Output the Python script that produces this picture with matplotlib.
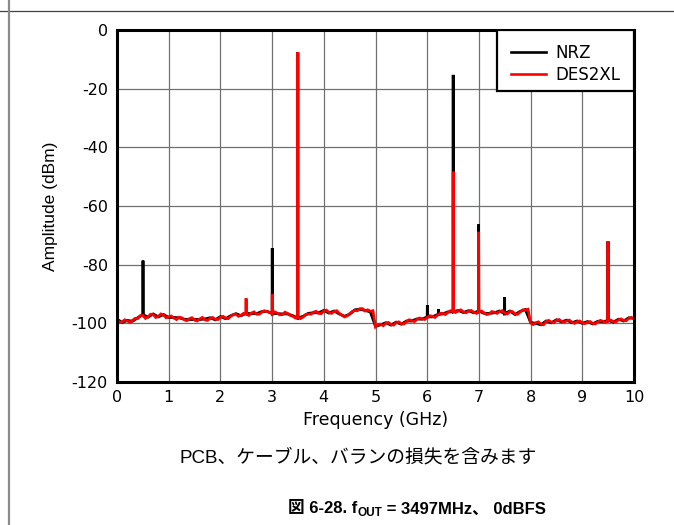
import numpy as np
import matplotlib
matplotlib.use("Agg")
import matplotlib.pyplot as plt
from matplotlib.lines import Line2D
from matplotlib.patches import Rectangle

plt.rcParams["font.family"] = ["Liberation Sans", "Noto Sans CJK JP", "DejaVu Sans"]
plt.rcParams["axes.unicode_minus"] = False

# ------------------------
# Data
# ------------------------
freq_fine = np.round(np.arange(0, 10.001, 0.05), 2)   # GHz, DES2XL trace
freq_coarse = np.round(np.arange(0, 10.01, 0.1), 2)   # GHz, NRZ trace

des2xl_floor = [
    -98.9, -99.6, -99.5, -98.8, -99.2, -99.7, -99.0, -98.3, -98.4, -97.4,
    -97.3, -98.3, -97.8, -96.9, -97.0, -98.0, -97.6, -96.8, -97.2, -98.1,
    -97.8, -97.5, -98.2, -98.7, -97.9, -98.1, -98.8, -99.1, -98.4, -98.1,
    -98.9, -99.2, -98.5, -98.0, -98.8, -99.0, -98.3, -98.0, -98.6, -98.7,
    -97.9, -97.6, -98.2, -98.4, -97.6, -97.0, -96.9, -97.6, -97.2, -96.6,
    -96.8, -97.3, -96.5, -96.1, -96.9, -96.9, -96.2, -95.7, -96.0, -96.3,
    -96.8, -96.1, -96.5, -97.1, -97.0, -96.2, -96.6, -97.3, -97.6, -98.2,
    -98.0, -98.4, -97.8, -97.0, -96.8, -96.9, -96.2, -95.9, -96.6, -96.7,
    -95.8, -95.5, -96.3, -96.6, -96.0, -95.7, -96.6, -97.2, -97.8, -97.5,
    -96.7, -96.0, -95.6, -95.7, -95.0, -95.0, -95.8, -95.4, -95.9, -95.7,
    -101.2, -100.4, -100.3, -100.8, -100.0, -99.7, -100.4, -100.6, -99.8, -99.5,
    -100.1, -100.2, -99.4, -98.8, -99.0, -99.4, -98.7, -98.2, -98.4, -98.7,
    -98.0, -97.4, -97.6, -98.0, -97.2, -96.6, -96.6, -97.0, -96.3, -95.7,
    -95.9, -96.3, -95.8, -95.4, -96.1, -96.4, -95.9, -95.6, -96.2, -96.6,
    -96.0, -95.8, -96.4, -97.0, -96.8, -96.0, -96.2, -96.6, -96.0, -95.7,
    -96.5, -96.8, -96.0, -96.0, -96.8, -96.9, -96.1, -95.4, -95.5, -95.2,
    -99.9, -100.4, -99.8, -99.5, -100.3, -100.5, -99.4, -99.0, -99.6, -99.8,
    -99.0, -98.7, -99.3, -99.6, -99.1, -98.9, -99.6, -100.0, -99.4, -99.2,
    -99.8, -100.1, -99.6, -99.4, -100.0, -100.2, -99.5, -99.0, -99.3, -99.7,
    -99.2, -98.9, -99.4, -99.5, -98.8, -98.5, -99.0, -99.1, -98.3, -98.0,
    -98.5,
]

nrz_floor = [
    -98.6, -99.7, -99.0, -99.3, -98.1, -97.0, -97.9, -96.8, -97.8, -97.0,
    -98.0, -98.0, -98.1, -98.6, -98.7, -98.7, -98.7, -98.5, -98.1, -98.8,
    -97.7, -98.4, -97.4, -96.7, -97.4, -96.6, -96.7, -96.7, -96.0, -95.9,
    -96.6, -96.7, -96.8, -96.8, -97.4, -98.2, -97.6, -96.6, -96.4, -96.4,
    -95.6, -96.5, -95.8, -96.8, -97.6, -96.9, -95.4, -95.2, -95.6, -96.1,
    -101.0, -100.5, -99.8, -100.6, -99.6, -100.3, -99.2, -99.2, -98.5, -98.6,
    -97.8, -97.8, -97.0, -96.8, -96.1, -96.1, -95.6, -96.3, -95.7, -96.4,
    -95.8, -96.6, -96.6, -96.4, -95.8, -96.7, -95.8, -97.0, -95.9, -95.3,
    -99.7, -100.0, -100.5, -99.2, -99.8, -98.8, -99.5, -98.9, -99.8, -99.2,
    -100.0, -99.4, -100.2, -99.3, -99.5, -99.0, -99.6, -98.6, -99.2, -98.1,
    -98.3,
]

nrz_spur_freq = [0.503, 3.003, 3.497, 6.003, 6.22, 6.503, 6.994, 7.497, 9.497]
nrz_spur_level = [-78.6, -74.4, -7.6, -93.8, -95.2, -15.3, -66.3, -91.1, -72.0]

des2xl_spur_freq = [2.497, 3.003, 3.497, 6.503, 6.994, 9.497]
des2xl_spur_level = [-91.5, -90.0, -7.6, -48.3, -68.8, -72.0]

x_ticks = list(range(0, 11))
y_ticks = [0, -20, -40, -60, -80, -100, -120]

# the chart image in the source is stretched sideways, a wider face copies that
wide_font = ["DejaVu Sans"]


def with_spurs(grid, floor, spur_freq, spur_level, half_width=0.004):
    # put each spur on the trace as a narrow spike rising from the noise floor
    f = list(grid)
    a = list(floor)
    for sf, sl in zip(spur_freq, spur_level):
        for df in (-half_width, half_width):
            f.append(sf + df)
            a.append(float(np.interp(sf + df, grid, floor)))
        f.append(sf)
        a.append(sl)
    order = np.argsort(f, kind="stable")
    return np.array(f)[order], np.array(a)[order]


# ------------------------
# Figure
# ------------------------
fig = plt.figure(figsize=(6.74, 5.25), dpi=100)
ax = fig.add_axes([117 / 674, 1 - 382 / 525, 517 / 674, 352 / 525])

f_nrz, a_nrz = with_spurs(freq_coarse, nrz_floor, nrz_spur_freq, nrz_spur_level)
f_des, a_des = with_spurs(freq_fine, des2xl_floor, des2xl_spur_freq, des2xl_spur_level)

ax.plot(f_nrz, a_nrz, color="black", lw=2.0, solid_joinstyle="miter", zorder=3)
ax.plot(f_des, a_des, color="#ff0000", lw=2.0, solid_joinstyle="miter", zorder=4)

ax.set_xlim(0, 10)
ax.set_ylim(-120, 0)
ax.set_xticks(x_ticks)
ax.set_yticks(y_ticks)
ax.grid(True, color="#707070", lw=0.9)
ax.set_axisbelow(True)
ax.tick_params(length=0, labelsize=11.5)
ax.tick_params(axis="x", pad=6)
ax.tick_params(axis="y", pad=6.5)
for lab in ax.get_xticklabels() + ax.get_yticklabels():
    lab.set_family(wide_font)
for sp in ax.spines.values():
    sp.set_linewidth(2.2)
    sp.set_color("black")
    sp.set_zorder(6)

ax.set_xlabel("Frequency (GHz)", fontsize=12.5, family=wide_font)
ax.xaxis.set_label_coords(0.5, -0.083)
ax.set_ylabel("Amplitude (dBm)", fontsize=12.5)
ax.yaxis.set_label_coords(-0.115, 0.5)

# legend in a plain black box flush with the top-right corner
box = Rectangle((380 / 517, 1 - 61 / 352), 137 / 517, 61 / 352,
                transform=ax.transAxes, facecolor="white", edgecolor="black",
                lw=1.6, zorder=7)
ax.add_patch(box)
handles = [Line2D([], [], color="black", lw=1.9),
           Line2D([], [], color="#ff0000", lw=1.9)]
leg = ax.legend(handles, ["NRZ", "DES2XL"], loc="upper left",
                bbox_to_anchor=(381 / 517, 1 - 1 / 352), frameon=False,
                prop={"family": wide_font, "size": 12},
                handlelength=2.1, handletextpad=0.55,
                labelspacing=0.2, borderpad=0.3)
leg.set_zorder(8)

# page furniture
fig.add_artist(Line2D([0, 1], [1 - 10.5 / 525] * 2, color="#404040", lw=0.9))
fig.add_artist(Line2D([9 / 674] * 2, [0, 1], color="#8a8a8a", lw=1.6))

fig.text(358 / 674, 1 - 458 / 525, "PCB、ケーブル、バランの損失を含みます",
         fontsize=13.5, ha="center", va="center")

# caption title built from pieces so OUT can be a subscript
renderer = fig.canvas.get_renderer()
ty = 1 - 509 / 525
t1 = fig.text(288 / 674, ty, "図 6-28. f", fontsize=12, fontweight="bold",
              ha="left", va="center")
bb = t1.get_window_extent(renderer)
t2 = fig.text(bb.x1 / 674, ty - 4 / 525, "OUT", fontsize=8.5,
              fontweight="bold", ha="left", va="center")
bb = t2.get_window_extent(renderer)
fig.text(bb.x1 / 674, ty, " = 3497MHz、 0dBFS", fontsize=12,
         fontweight="bold", ha="left", va="center")

fig.savefig("out.png", dpi=100)
